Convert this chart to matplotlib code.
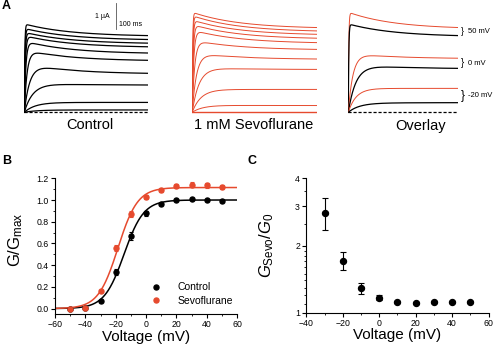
import numpy as np
import matplotlib
matplotlib.use("Agg")
import matplotlib.pyplot as plt
from matplotlib.lines import Line2D
from matplotlib.ticker import FixedLocator, NullFormatter

plt.rcParams['font.family'] = ['Liberation Sans', 'DejaVu Sans']
plt.rcParams['mathtext.fontset'] = 'custom'
plt.rcParams['mathtext.rm'] = 'Liberation Sans'
plt.rcParams['mathtext.it'] = 'Liberation Sans:italic'

# ---------------- data ----------------
# Panel A: current traces (uA), listed from the top trace down
ctrl_peak = [3.40, 3.23, 3.08, 2.95, 2.74, 2.40, 1.88, 1.12, 0.38, 0.09]
ctrl_end = [2.95, 2.80, 2.66, 2.52, 2.28, 2.00, 1.50, 1.05, 0.38, 0.09]
ctrl_tau = [1.5, 2.0, 2.5, 3.5, 5.0, 9.0, 18.0, 28.0, 35.0, 40.0]   # activation, ms

sevo_peak = [3.85, 3.72, 3.55, 3.38, 3.17, 2.78, 2.29, 1.72, 0.88, 0.28]
sevo_end = [3.26, 3.13, 3.00, 2.85, 2.68, 2.42, 2.05, 1.65, 0.88, 0.26]
sevo_tau = [1.5, 2.0, 2.5, 3.5, 5.0, 8.0, 14.0, 22.0, 28.0, 35.0]

ovl_labels = ['50 mV', '0 mV', '-20 mV']
ovl_ctrl_peak = [3.40, 1.85, 0.35]
ovl_ctrl_end = [2.95, 1.69, 0.37]
ovl_ctrl_tau = [1.5, 25.0, 35.0]
ovl_sevo_peak = [3.85, 2.27, 0.92]
ovl_sevo_end = [3.26, 2.08, 0.92]
ovl_sevo_tau = [1.5, 15.0, 25.0]

sweep_ms = 400
ovl_sweep_ms = 355
inact_tau_ms = 150

# Panel B: normalized conductance
volt_b = [-50, -40, -30, -20, -10, 0, 10, 20, 30, 40, 50]
g_ctrl = [0.0, 0.005, 0.068, 0.338, 0.669, 0.877, 0.966, 1.003, 1.009, 1.003, 0.991]
g_ctrl_err = [0.005, 0.01, 0.01, 0.03, 0.035, 0.02, 0.01, 0.01, 0.01, 0.01, 0.01]
g_sevo = [0.0, 0.008, 0.163, 0.558, 0.871, 1.028, 1.092, 1.129, 1.141, 1.135, 1.120]
g_sevo_err = [0.005, 0.01, 0.01, 0.025, 0.025, 0.02, 0.02, 0.02, 0.025, 0.02, 0.02]
# Boltzmann fit parameters: Gmax, V1/2 (mV), slope k (mV)
fit_ctrl = (1.0, -14.5, 6.5)
fit_sevo = (1.115, -18.5, 6.5)

# Panel C: G_sevo / G_0
volt_c = [-30, -20, -10, 0, 10, 20, 30, 40, 50]
ratio_c = [2.81, 1.71, 1.29, 1.17, 1.12, 1.11, 1.115, 1.12, 1.12]
ratio_err = [0.47, 0.155, 0.068, 0.03, 0.012, 0.012, 0.012, 0.012, 0.012]

RED = '#e64a2e'
W, H = 500, 350

fig = plt.figure(figsize=(5, 3.5), dpi=100)


def px_axes(x0, y0, x1, y1):
    return fig.add_axes([x0 / W, 1 - y1 / H, (x1 - x0) / W, (y1 - y0) / H])


def ftext(x, y, s, **kw):
    fig.text(x / W, 1 - y / H, s, **kw)


def trace(t, peak, end, tau_a, T):
    frac = (1 - np.exp(-t / inact_tau_ms)) / (1 - np.exp(-T / inact_tau_ms))
    inact = peak - (peak - end) * frac
    return (1 - np.exp(-t / tau_a)) * inact


# ---------------- Panel A ----------------
ylo, yhi = -0.2, 4.3
axc = px_axes(24.3, 0.5, 148, 117.5)
axs = px_axes(192.2, 0.5, 316.7, 117.5)
axo = px_axes(348.3, 0.5, 458.3, 117.5)
for a, T in ((axc, sweep_ms), (axs, sweep_ms), (axo, ovl_sweep_ms)):
    a.set_xlim(0, T)
    a.set_ylim(ylo, yhi)
    a.axis('off')

t = np.linspace(0, sweep_ms, 1200)
axc.plot([0, sweep_ms], [0, 0], color='black', lw=0.9, dashes=(2.5, 1.5))
for p, e, ta in zip(ctrl_peak, ctrl_end, ctrl_tau):
    axc.plot(t, trace(t, p, e, ta, sweep_ms), color='black', lw=0.9)

axs.plot([0, sweep_ms], [0, 0], color=RED, lw=1.0)
for p, e, ta in zip(sevo_peak, sevo_end, sevo_tau):
    axs.plot(t, trace(t, p, e, ta, sweep_ms), color=RED, lw=0.7)

to = np.linspace(0, ovl_sweep_ms, 1200)
axo.plot([0, ovl_sweep_ms], [0, 0], color='black', lw=0.9, dashes=(2.5, 1.5))
for i, lab in enumerate(ovl_labels):
    axo.plot(to, trace(to, ovl_sevo_peak[i], ovl_sevo_end[i], ovl_sevo_tau[i], ovl_sweep_ms),
             color=RED, lw=0.7)
    axo.plot(to, trace(to, ovl_ctrl_peak[i], ovl_ctrl_end[i], ovl_ctrl_tau[i], ovl_sweep_ms),
             color='black', lw=0.9)
    ymid = (ovl_sevo_end[i] + ovl_ctrl_end[i]) / 2
    gap = ovl_sevo_end[i] - ovl_ctrl_end[i]
    axo.text(ovl_sweep_ms + 8, ymid, '}', fontsize=4 + gap * 8, ha='left', va='center',
             clip_on=False)
    axo.text(ovl_sweep_ms + 30, ymid, lab, fontsize=5.5, ha='left', va='center',
             clip_on=False)

# scale bar (1 uA)
axc.plot([295.6, 295.6], [3.19, 4.19], color='#555555', lw=0.6, clip_on=False)
ftext(102, 17, '1 µA', fontsize=5, ha='center', va='center')
ftext(131, 24, '100 ms', fontsize=5, ha='center', va='center')

ftext(90, 125, 'Control', fontsize=10.5, ha='center', va='center')
ftext(254, 125, '1 mM Sevoflurane', fontsize=10.5, ha='center', va='center')
ftext(421, 126, 'Overlay', fontsize=10.5, ha='center', va='center')

ftext(2, 6, 'A', fontsize=9, fontweight='bold', ha='left', va='center')
ftext(2, 161, 'B', fontsize=9, fontweight='bold', ha='left', va='center')
ftext(247, 161, 'C', fontsize=9, fontweight='bold', ha='left', va='center')


def style_axes(a):
    for s in ('top', 'right'):
        a.spines[s].set_visible(False)
    for s in ('left', 'bottom'):
        a.spines[s].set_linewidth(0.8)
    a.tick_params(which='major', direction='out', length=3, width=0.8, labelsize=6.3, pad=1.5)
    a.tick_params(which='minor', direction='out', length=1.5, width=0.6)


# ---------------- Panel B ----------------
axb = px_axes(55, 178.3, 237, 314)
style_axes(axb)
vf = np.linspace(-60, 60, 400)
for (gm, vh, k), col in ((fit_ctrl, 'black'), (fit_sevo, RED)):
    axb.plot(vf, gm / (1 + np.exp((vh - vf) / k)), color=col, lw=1.1)
axb.errorbar(volt_b, g_ctrl, yerr=g_ctrl_err, fmt='o', color='black', ms=3.6,
             capsize=1.5, elinewidth=0.8, capthick=0.8)
axb.errorbar(volt_b, g_sevo, yerr=g_sevo_err, fmt='o', color=RED, ms=3.6,
             capsize=1.5, elinewidth=0.8, capthick=0.8)
axb.set_xlim(-60, 60)
axb.set_ylim(-0.05, 1.2)
axb.set_xticks([-60, -40, -20, 0, 20, 40, 60])
axb.set_yticks([0.0, 0.2, 0.4, 0.6, 0.8, 1.0, 1.2])
axb.set_yticklabels(['0.0', '0.2', '0.4', '0.6', '0.8', '1.0', '1.2'])
axb.xaxis.set_minor_locator(FixedLocator(np.arange(-50, 60, 20)))
axb.yaxis.set_minor_locator(FixedLocator(np.arange(0.1, 1.2, 0.2)))
axb.set_xlabel('Voltage (mV)', fontsize=11)
axb.xaxis.set_label_coords(0.5, -0.115)
axb.set_ylabel(r'$\mathrm{G/G}_{\mathrm{max}}$', fontsize=12)
axb.yaxis.set_label_coords(-0.165, 0.55)
handles = [Line2D([], [], marker='o', ls='none', color='black', ms=3.6),
           Line2D([], [], marker='o', ls='none', color=RED, ms=3.6)]
axb.legend(handles, ['Control', 'Sevoflurane'], loc='center left',
           bbox_to_anchor=(0.525, 0.146), frameon=False, fontsize=7.5,
           handlelength=1.0, handletextpad=1.6, labelspacing=0.35, borderpad=0,
           borderaxespad=0)

# ---------------- Panel C ----------------
axcc = px_axes(306.3, 178.3, 488.5, 313)
style_axes(axcc)
axcc.set_yscale('log')
axcc.errorbar(volt_c, ratio_c, yerr=ratio_err, fmt='o', color='black', ms=4.3,
              capsize=2.0, elinewidth=0.8, capthick=0.8)
axcc.set_xlim(-40, 60)
axcc.set_ylim(1, 4)
axcc.set_xticks([-40, -20, 0, 20, 40, 60])
axcc.yaxis.set_major_locator(FixedLocator([1, 2, 3, 4]))
axcc.set_yticklabels(['1', '2', '3', '4'])
axcc.yaxis.set_minor_locator(FixedLocator([1.1, 1.2, 1.3, 1.4, 1.5, 1.6, 1.7, 1.8, 1.9,
                                           2.5, 3.5]))
axcc.yaxis.set_minor_formatter(NullFormatter())
axcc.xaxis.set_minor_locator(FixedLocator(np.arange(-30, 60, 20)))
axcc.set_xlabel('Voltage (mV)', fontsize=11)
axcc.xaxis.set_label_coords(0.5, -0.115)
axcc.set_ylabel(r'$G_{\mathrm{Sevo}}/G_{0}$', fontsize=12)
axcc.yaxis.set_label_coords(-0.166, 0.5)

fig.savefig('out.png', dpi=100)
